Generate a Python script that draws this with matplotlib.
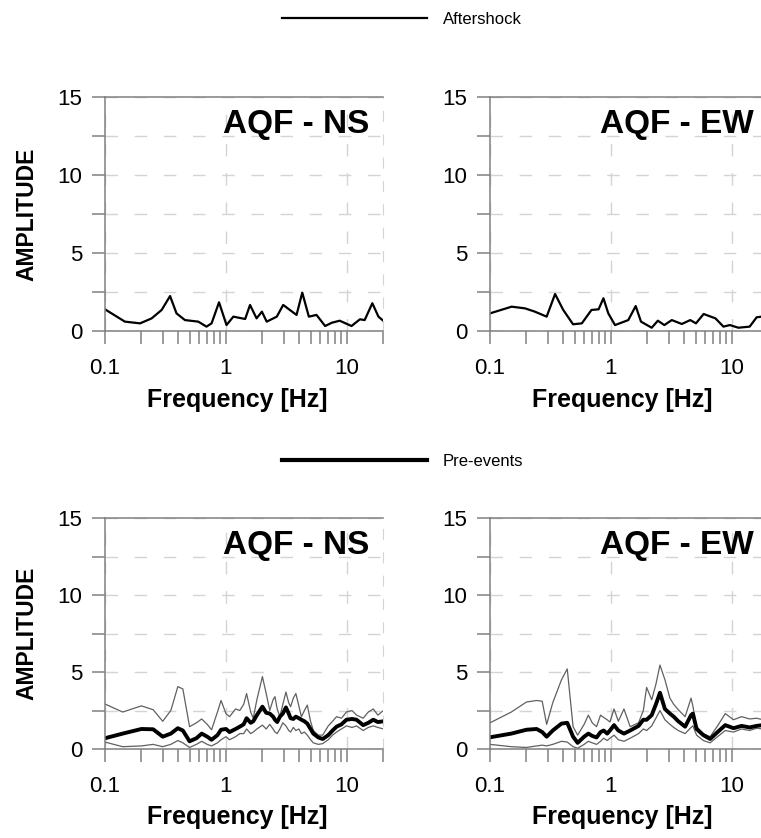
"""Fourier amplitude spectra at AQF: aftershock vs pre-events."""

import numpy as np
import matplotlib
matplotlib.use("Agg")
import matplotlib.pyplot as plt
from matplotlib.lines import Line2D
from matplotlib.ticker import FixedLocator, LogLocator, NullFormatter

plt.rcParams["font.family"] = ["Liberation Sans", "DejaVu Sans"]

# --- aftershock spectra -------------------------------------------------
ns_after_f = [0.1, 0.146, 0.195, 0.243, 0.294, 0.345, 0.39, 0.458, 0.59, 0.69,
              0.76, 0.876, 1.01, 1.15, 1.44, 1.58, 1.79, 1.98, 2.17, 2.63,
              2.97, 3.37, 3.83, 4.27, 4.84, 5.6, 6.6, 7.5, 8.7, 10.9,
              12.8, 14.0, 16.2, 18.2, 20]
ns_after_a = [1.39, 0.6, 0.49, 0.81, 1.35, 2.24, 1.13, 0.7, 0.6, 0.28,
              0.49, 1.84, 0.38, 0.92, 0.77, 1.67, 0.81, 1.24, 0.6, 0.92,
              1.67, 1.35, 1.03, 2.46, 0.92, 1.03, 0.32, 0.53, 0.66, 0.32,
              0.75, 0.7, 1.78, 0.92, 0.65]

ew_after_f = [0.1, 0.151, 0.195, 0.235, 0.294, 0.345, 0.403, 0.486, 0.574, 0.69,
              0.79, 0.866, 0.95, 1.08, 1.39, 1.60, 1.77, 2.17, 2.44, 2.76,
              3.18, 3.85, 4.52, 5.04, 5.83, 7.3, 8.5, 9.6, 11.3, 14.0,
              16.0, 17.6, 20]
ew_after_a = [1.13, 1.56, 1.45, 1.24, 0.92, 2.37, 1.35, 0.43, 0.49, 1.35,
              1.39, 2.1, 1.13, 0.38, 0.7, 1.6, 0.6, 0.21, 0.66, 0.38,
              0.7, 0.45, 0.7, 0.49, 1.09, 0.81, 0.28, 0.38, 0.21, 0.28,
              0.88, 0.92, 0.8]

# --- pre-event spectra (upper, mean, lower) -----------------------------
ns_pre_f = [0.1, 0.14, 0.2, 0.25, 0.3, 0.35, 0.4, 0.44, 0.5, 0.57,
            0.63, 0.7, 0.76, 0.85, 0.91, 1.0, 1.07, 1.2, 1.3, 1.4,
            1.48, 1.6, 1.68, 1.8, 2.0, 2.15, 2.3, 2.45, 2.54, 2.65,
            2.79, 2.95, 3.13, 3.3, 3.42, 3.6, 3.78, 4.0, 4.2, 4.45,
            4.7, 5.0, 5.27, 5.8, 6.3, 7.0, 7.6, 8.2, 9.0, 9.9,
            11, 12, 13.6, 15, 16.5, 18, 20]
ns_pre_hi = [2.92, 2.4, 2.8, 2.55, 1.8, 2.5, 4.05, 3.9, 1.45, 1.7,
             1.95, 1.6, 1.25, 2.4, 3.15, 2.3, 2.1, 2.6, 2.5, 2.9,
             3.6, 2.4, 2.0, 3.2, 4.7, 3.6, 2.5, 3.2, 3.4, 2.6,
             2.1, 2.9, 3.7, 3.0, 2.75, 3.3, 3.6, 2.8, 2.1, 2.5,
             2.85, 1.8, 1.2, 0.9, 0.9, 1.5, 1.8, 2.1, 2.0, 2.4,
             2.5, 2.2, 2.0, 2.4, 2.6, 2.2, 2.5]
ns_pre_mean = [0.7, 1.0, 1.3, 1.28, 0.8, 1.0, 1.35, 1.2, 0.5, 0.7,
               1.0, 0.8, 0.6, 0.9, 1.25, 1.3, 1.1, 1.3, 1.45, 1.6,
               2.0, 1.7, 1.8, 2.2, 2.75, 2.35, 2.3, 2.1, 1.9, 1.75,
               2.1, 2.3, 2.7, 2.3, 2.0, 1.95, 2.1, 2.0, 1.9, 1.8,
               1.65, 1.3, 1.0, 0.75, 0.65, 0.9, 1.2, 1.45, 1.6, 1.9,
               1.95, 1.9, 1.55, 1.7, 1.9, 1.75, 1.8]
ns_pre_lo = [0.45, 0.15, 0.2, 0.3, 0.15, 0.3, 0.55, 0.4, 0.1, 0.3,
             0.5, 0.3, 0.2, 0.4, 0.6, 0.8, 0.6, 0.8, 1.0, 1.0,
             1.3, 1.0, 1.1, 1.3, 1.55, 1.3, 1.6, 1.3, 1.1, 1.0,
             1.3, 1.7, 1.5, 1.2, 1.1, 1.4, 1.2, 1.3, 1.0, 1.1,
             0.9, 0.6, 0.4, 0.3, 0.35, 0.6, 0.9, 1.1, 1.3, 1.5,
             1.4, 1.5, 1.2, 1.4, 1.5, 1.4, 1.3]

ew_pre_f = [0.1, 0.15, 0.2, 0.243, 0.27, 0.294, 0.33, 0.39, 0.435, 0.486,
            0.53, 0.6, 0.65, 0.7, 0.76, 0.82, 0.87, 0.93, 0.98, 1.06,
            1.15, 1.28, 1.44, 1.69, 1.85, 1.97, 2.17, 2.35, 2.54, 2.79,
            3.07, 3.3, 3.6, 4.1, 4.59, 4.75, 5.1, 5.8, 6.6, 7.6,
            8.8, 10.3, 12, 14, 16, 18, 20]
ew_pre_hi = [1.7, 2.4, 3.05, 3.15, 3.1, 1.6, 3.0, 4.5, 5.2, 1.45,
             0.9, 1.6, 2.2, 1.7, 1.45, 2.2, 2.05, 1.9, 1.75, 2.6,
             1.8, 2.6, 1.45, 1.7, 2.5, 4.0, 3.2, 4.2, 5.45, 4.5,
             3.3, 2.9, 2.55, 2.1, 3.3, 2.8, 1.45, 1.0, 0.8, 1.5,
             2.3, 1.9, 2.1, 1.95, 2.0, 1.9, 1.8]
ew_pre_mean = [0.76, 1.0, 1.25, 1.3, 1.1, 0.8, 1.2, 1.65, 1.7, 0.8,
               0.4, 0.8, 1.0, 0.85, 0.75, 1.1, 1.2, 1.0, 1.2, 1.55,
               1.2, 1.0, 1.2, 1.5, 1.9, 1.9, 2.2, 2.9, 3.65, 2.6,
               2.3, 2.1, 1.8, 1.45, 2.2, 2.3, 1.3, 0.9, 0.65, 1.1,
               1.55, 1.35, 1.5, 1.4, 1.5, 1.55, 1.45]
ew_pre_lo = [0.3, 0.15, 0.1, 0.2, 0.25, 0.2, 0.3, 0.5, 0.45, 0.15,
             0.05, 0.3, 0.5, 0.4, 0.3, 0.5, 0.7, 0.55, 0.7, 0.9,
             0.6, 0.5, 0.7, 1.0, 1.3, 1.2, 1.5, 2.0, 2.5, 1.9,
             1.6, 1.4, 1.2, 1.0, 1.4, 1.5, 0.9, 0.55, 0.4, 0.8,
             1.2, 1.1, 1.3, 1.2, 1.35, 1.3, 1.2]

W, H = 761, 838
AX_W = 278.4
GRAY = "#808080"
GRID = "#d4d4d4"


def _style_axes(ax, title, ylabel):
    ax.set_xscale("log")
    ax.set_xlim(0.1, 20)
    ax.set_ylim(0, 15)
    ax.xaxis.set_major_locator(FixedLocator([0.1, 1, 10]))
    ax.xaxis.set_minor_locator(LogLocator(base=10, subs=np.arange(2, 10)))
    ax.xaxis.set_minor_formatter(NullFormatter())
    ax.set_xticks([0.1, 1, 10], labels=["0.1", "1", "10"])
    ax.set_yticks([0, 5, 10, 15])
    ax.set_yticks([2.5, 7.5, 12.5], minor=True)

    ax.grid(axis="x", which="major", color=GRID, lw=1.0, linestyle=(0, (9, 12)))
    ax.grid(axis="y", which="both", color=GRID, lw=1.0, linestyle=(0, (9, 12)))

    for side in ("left", "bottom", "top"):
        ax.spines[side].set_color(GRAY)
        ax.spines[side].set_linewidth(1.1)
    ax.spines["right"].set_color(GRID)
    ax.spines["right"].set_linestyle((0, (9, 12)))

    ax.tick_params(axis="both", which="both", direction="out", color=GRAY,
                   width=1.1, length=9.5, labelsize=16)
    ax.tick_params(axis="x", which="both", pad=10)
    ax.tick_params(axis="y", which="both", pad=7)

    ax.set_xlabel("Frequency [Hz]", fontsize=18, fontweight="bold")
    ax.xaxis.set_label_coords(0.476, -0.243)
    if ylabel:
        ax.set_ylabel("AMPLITUDE", fontsize=16.5, fontweight="bold")
        ax.yaxis.set_label_coords(-0.24, 0.5)

    ax.text(0.948, 0.846, title, transform=ax.transAxes, ha="right",
            va="baseline", fontsize=24, fontweight="bold")


def _axes_at(fig, left, top, bottom):
    return fig.add_axes([left / W, 1 - bottom / H, AX_W / W, (bottom - top) / H])


fig = plt.figure(figsize=(W / 100, H / 100), dpi=100)

ax_tl = _axes_at(fig, 105, 97, 331)
ax_tr = _axes_at(fig, 490, 97, 331)
ax_bl = _axes_at(fig, 105, 518, 749)
ax_br = _axes_at(fig, 490, 518, 749)

ax_tl.plot(ns_after_f, ns_after_a, color="black", lw=1.6)
ax_tr.plot(ew_after_f, ew_after_a, color="black", lw=1.6)

for ax, f, hi, mean, lo in [
    (ax_bl, ns_pre_f, ns_pre_hi, ns_pre_mean, ns_pre_lo),
    (ax_br, ew_pre_f, ew_pre_hi, ew_pre_mean, ew_pre_lo),
]:
    ax.plot(f, hi, color="#606060", lw=0.9)
    ax.plot(f, lo, color="#606060", lw=0.9)
    ax.plot(f, mean, color="black", lw=2.8)

_style_axes(ax_tl, "AQF - NS", True)
_style_axes(ax_tr, "AQF - EW", False)
_style_axes(ax_bl, "AQF - NS", True)
_style_axes(ax_br, "AQF - EW", False)

for label, lw, y in [("Aftershock", 1.6, 19), ("Pre-events", 3.0, 461)]:
    fig.legend(handles=[Line2D([], [], color="black", lw=lw)], labels=[label],
               loc="center left", bbox_to_anchor=(282 / W, 1 - y / H),
               frameon=False, fontsize=12, handlelength=8.7,
               handletextpad=0.95, borderpad=0, borderaxespad=0)

fig.savefig("out.png", dpi=100)
